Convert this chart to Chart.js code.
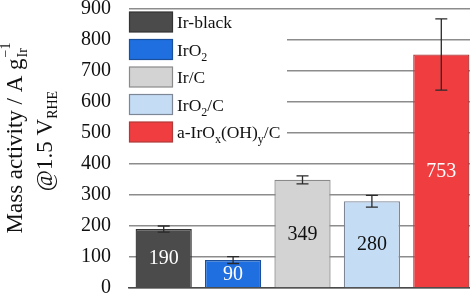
<!DOCTYPE html>
<html>
<head>
<meta charset="utf-8">
<script src="https://cdn.jsdelivr.net/npm/chart.js@4/dist/chart.umd.min.js"></script>
<style>
  html, body { margin: 0; padding: 0; background: #fff; overflow: hidden; width: 470px; height: 295px; }
  canvas { display: block; }
</style>
</head>
<body>
<canvas id="c" width="476" height="295" style="width:476px;height:295px"></canvas>
<script>
// ---- data ----
const categories = ["Ir-black", "IrO_2", "Ir/C", "IrO_2/C", "a-IrO_x(OH)_y/C"];
const massActivity = [190, 90, 349, 280, 753];
const errorValues = [10, 11, 13, 19, 115];
const valueLabels = ["190", "90", "349", "280", "753"];
const yTicks = [0, 100, 200, 300, 400, 500, 600, 700, 800, 900];

// ---- styles ----
const barFill = ["#4b4b4b", "#1f6fe0", "#d3d3d3", "#c5dcf5", "#ef3d40"];
const barEdge = ["#333333", "#1b4f9c", "#8a8a8a", "#7e8796", "#b03a3a"];
const labelColor = ["#ffffff", "#ffffff", "#111111", "#111111", "#ffffff"];
const SERIF = "'Liberation Serif', 'Times New Roman', serif";

function drawRich(ctx, text, x, y, size, subSize, subShift) {
  // text with _c subscript markers (single token until next non-alnum)
  const parts = [];
  let i = 0;
  while (i < text.length) {
    if (text[i] === "_") {
      parts.push({ t: text[i + 1], sub: true });
      i += 2;
    } else {
      if (parts.length && !parts[parts.length - 1].sub) parts[parts.length - 1].t += text[i];
      else parts.push({ t: text[i], sub: false });
      i++;
    }
  }
  let cx = x;
  for (const p of parts) {
    ctx.font = (p.sub ? subSize : size) + "px " + SERIF;
    ctx.fillText(p.t, cx, p.sub ? y + subShift : y);
    cx += ctx.measureText(p.t).width;
  }
}

const errorBarPlugin = {
  id: "errorBars",
  afterDatasetsDraw(chart) {
    const ctx = chart.ctx;
    const meta = chart.getDatasetMeta(0);
    const ys = chart.scales.y;
    ctx.save();
    ctx.strokeStyle = "#2a2a2a";
    ctx.lineWidth = 1.3;
    meta.data.forEach((bar, i) => {
      const v = massActivity[i], e = errorValues[i];
      const x = bar.x;
      const yt = ys.getPixelForValue(v + e), yb = ys.getPixelForValue(v - e);
      ctx.beginPath();
      ctx.moveTo(x, yt); ctx.lineTo(x, yb);
      ctx.moveTo(x - 6, yt); ctx.lineTo(x + 6, yt);
      ctx.moveTo(x - 6, yb); ctx.lineTo(x + 6, yb);
      ctx.stroke();
    });
    // value labels
    ctx.font = "20px " + SERIF;
    ctx.textAlign = "center";
    ctx.textBaseline = "middle";
    meta.data.forEach((bar, i) => {
      const mid = (bar.y + bar.base) / 2;
      ctx.fillStyle = labelColor[i];
      ctx.fillText(valueLabels[i], bar.x, mid + 1);
    });
    ctx.restore();
  }
};

const legendPlugin = {
  id: "customLegend",
  afterDraw(chart) {
    const ctx = chart.ctx;
    const left = chart.chartArea.left;
    ctx.save();
    ctx.fillStyle = "#ffffff";
    ctx.fillRect(left, 10, 158, 136);
    categories.forEach((name, i) => {
      const top = 12 + 27.5 * i;
      ctx.fillStyle = barFill[i];
      ctx.fillRect(left + 0.5, top, 43, 20);
      ctx.strokeStyle = barEdge[i];
      ctx.lineWidth = 1.2;
      ctx.strokeRect(left + 0.5, top, 43, 20);
      ctx.fillStyle = "#111111";
      ctx.textBaseline = "alphabetic";
      ctx.textAlign = "left";
      drawRich(ctx, name, left + 48, top + 16, 17.5, 12, 5);
    });
    ctx.restore();
  }
};

const yTitlePlugin = {
  id: "yTitle",
  afterDraw(chart) {
    const ctx = chart.ctx;
    ctx.save();
    ctx.fillStyle = "#111111";
    ctx.textBaseline = "alphabetic";
    ctx.textAlign = "left";
    // line 1
    ctx.save();
    ctx.translate(22, 138);
    ctx.rotate(-Math.PI / 2);
    ctx.font = "23px " + SERIF;
    const l1 = "Mass activity / A g";
    const w1 = ctx.measureText(l1).width;
    ctx.font = "14px " + SERIF;
    const wsub = Math.max(ctx.measureText("Ir").width, ctx.measureText("\u22121").width);
    const total1 = w1 + wsub + 1;
    let x0 = -total1 / 2;
    ctx.font = "23px " + SERIF;
    ctx.fillText(l1, x0, 0);
    ctx.font = "14px " + SERIF;
    ctx.fillText("Ir", x0 + w1 + 1, 5);
    ctx.fillText("\u22121", x0 + w1 + 1, -12);
    ctx.restore();
    // line 2
    ctx.save();
    ctx.translate(52, 141);
    ctx.rotate(-Math.PI / 2);
    ctx.font = "23px " + SERIF;
    const l2 = "@1.5 V";
    const w2 = ctx.measureText(l2).width;
    ctx.font = "14px " + SERIF;
    const w3 = ctx.measureText("RHE").width;
    const x2 = -(w2 + w3) / 2;
    ctx.font = "23px " + SERIF;
    ctx.fillText(l2, x2, 0);
    ctx.font = "14px " + SERIF;
    ctx.fillText("RHE", x2 + w2, 5);
    ctx.restore();
    ctx.restore();
  }
};

const bgPlugin = {
  id: "bg",
  beforeDraw(chart) {
    const ctx = chart.ctx;
    ctx.save();
    ctx.fillStyle = "#ffffff";
    ctx.fillRect(0, 0, chart.width, chart.height);
    ctx.restore();
  }
};

new Chart(document.getElementById("c"), {
  type: "bar",
  data: {
    labels: categories,
    datasets: [{
      data: massActivity,
      backgroundColor: barFill,
      borderColor: barEdge,
      borderWidth: 1.3,
      barPercentage: 0.81,
      categoryPercentage: 1.0
    }]
  },
  options: {
    responsive: false,
    devicePixelRatio: 1,
    animation: false,
    layout: { padding: { top: 9, left: 0, right: 0, bottom: 0 } },
    plugins: { legend: { display: false }, tooltip: { enabled: false } },
    scales: {
      x: {
        ticks: { display: false },
        grid: { display: false },
        border: { display: true, color: "#4a4a4a", width: 1.6 },
        afterFit(s) { s.height = 7; s.paddingLeft = 0; s.paddingRight = 0; }
      },
      y: {
        min: 0, max: 900,
        afterBuildTicks(s) { s.ticks = yTicks.map(v => ({ value: v })); },
        ticks: { font: { family: SERIF, size: 20 }, color: "#111111", padding: 18 },
        grid: { color: "#8c8c8c", lineWidth: 1.5, drawTicks: false },
        border: { display: false },
        afterFit(s) { s.width = 129; s.paddingTop = 0; s.paddingBottom = 0; }
      }
    }
  },
  plugins: [bgPlugin, errorBarPlugin, legendPlugin, yTitlePlugin]
});
</script>
</body>
</html>
